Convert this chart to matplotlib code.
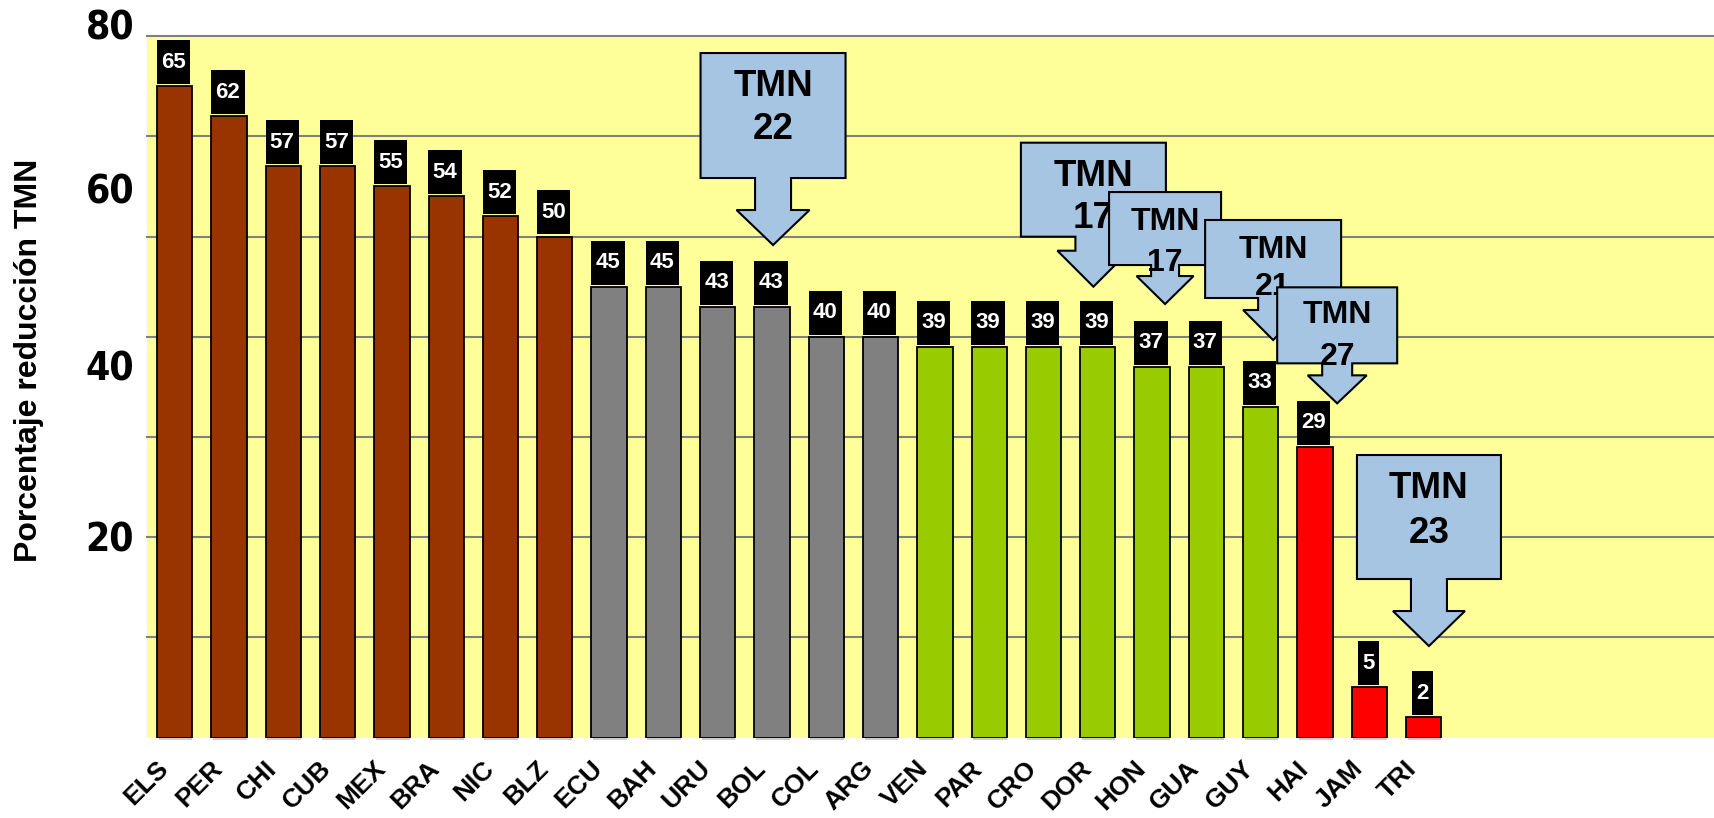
import matplotlib
matplotlib.use("Agg")
import matplotlib.pyplot as plt
from matplotlib import font_manager
from matplotlib.patches import Polygon, Rectangle
from matplotlib.transforms import IdentityTransform, blended_transform_factory

# ---- data -------------------------------------------------------------
categories = ["ELS", "PER", "CHI", "CUB", "MEX", "BRA", "NIC", "BLZ",
              "ECU", "BAH", "URU", "BOL", "COL", "ARG",
              "VEN", "PAR", "CRO", "DOR", "HON", "GUA", "GUY",
              "HAI", "JAM", "TRI"]
values = [65, 62, 57, 57, 55, 54, 52, 50,
          45, 45, 43, 43, 40, 40,
          39, 39, 39, 39, 37, 37, 33,
          29, 5, 2]
groups = ["high"] * 8 + ["mid"] * 6 + ["low"] * 7 + ["least"] * 3
group_colors = {"high": "#993300", "mid": "#808080",
                "low": "#99CC00", "least": "#FF0000"}

# y-axis labels as they are printed beside the plot area
ytick_texts = ["80", "60", "40", "20"]
ytick_at = [70.8, 54.4, 36.7, 19.7]

# TMN callouts: target bar, tip height, label
callout_bars = ["BOL", "DOR", "HON", "GUY", "HAI", "TRI"]
callout_tmn = ["22", "17", "17", "21", "27", "23"]
callout_tip_dx = [0.02, -0.08, 0.24, 0.23, 0.41, 0.10]
callout_tip_y = [49.15, 44.99, 43.26, 39.67, 33.35, 9.13]

# ---- style -------------------------------------------------------------
W, H, DPI = 1714, 818, 100
YELLOW = "#FFFF99"
BLUE = "#A6C5E3"
GRID = "#808080"
FONT = "Liberation Sans"

installed = {f.name for f in font_manager.fontManager.ttflist}
narrow_stretch = "normal"
if "Liberation Sans Narrow" in installed:
    NARROW, narrow_size = "Liberation Sans Narrow", 30.5
elif any(f.name == "DejaVu Sans" and "Condensed" in f.fname
         for f in font_manager.fontManager.ttflist):
    NARROW, narrow_size, narrow_stretch = "DejaVu Sans", 28, "condensed"
else:
    NARROW, narrow_size = FONT, 27

# callout geometry in pixels: box w/h, stem w/len, head w/h, font, line offsets
callout_geom = [
    (145, 125, 36, 32, 73, 35, 26.5, 33, 76),
    (145, 94, 36, 14, 72, 36, 26.5, 34, 76),
    (112, 73, 28, 11, 57, 28, 23, 30, 71),
    (136, 78, 30, 12, 60, 30, 23, 30, 67),
    (120, 76, 30, 12, 59, 28, 23, 28, 70),
    (144, 124, 36, 32, 72, 35, 26.5, 33, 78),
]

fig = plt.figure(figsize=(W / DPI, H / DPI), dpi=DPI)
left_px, top_px, bottom_px = 146.7, 36.1, 737.5
ax = fig.add_axes([left_px / W, 1 - bottom_px / H,
                   1 - left_px / W, (bottom_px - top_px) / H])
ax.set_xlim(-0.516, 28.35)
ax.set_ylim(0, 70)
ax.set_facecolor(YELLOW)
for s in ax.spines.values():
    s.set_visible(False)
ax.set_xticks([])
ax.set_yticks([])

# horizontal gridlines every 10 units
for gy in range(10, 71, 10):
    ax.axhline(gy, color=GRID, lw=1.5, zorder=1, clip_on=False)

x = list(range(len(categories)))
colors = [group_colors[g] for g in groups]
bar_w = 0.65
ax.bar(x, values, width=bar_w, color=colors, edgecolor="black",
       linewidth=1.3, zorder=2)

# light shadow line under each bar
for xi in x:
    ax.plot([xi - bar_w / 2 + 0.03, xi + bar_w / 2], [-0.18, -0.18],
            color="#C8C8C8", lw=1.3, clip_on=False, zorder=2,
            solid_capstyle="butt")

# value labels in black boxes
fig.canvas.draw()
renderer = fig.canvas.get_renderer()
px_per_x = ax.transData.transform((1, 0))[0] - ax.transData.transform((0, 0))[0]
for xi, v in zip(x, values):
    t = ax.text(xi - 0.02, v + 2.4, str(v), color="white", fontsize=16,
                fontweight="bold", family=FONT, ha="center", va="center",
                zorder=4)
    tw = t.get_window_extent(renderer).width
    bw = (tw + 8.5) / px_per_x
    ax.add_patch(Rectangle((xi - 0.02 - bw / 2, v + 0.2), bw, 4.4,
                           facecolor="black", edgecolor="none", zorder=3))

# category labels
for xi, c in zip(x, categories):
    ax.annotate(c, xy=(xi, 0), xytext=(-2, -19), textcoords="offset pixels",
                rotation=45, ha="right", va="top", fontsize=19,
                fontweight="bold", family=FONT, annotation_clip=False)

# printed y labels
ytrans = blended_transform_factory(fig.transFigure, ax.transData)
for txt, yv in zip(ytick_texts, ytick_at):
    ax.text(134 / W, yv, txt, transform=ytrans, ha="right", va="center",
            fontsize=narrow_size, fontweight="bold", family=NARROW,
            fontstretch=narrow_stretch, clip_on=False)

fig.text(29 / W, 1 - 360 / H, "Porcentaje reducción TMN", rotation=90,
         ha="center", va="center", fontsize=23, fontweight="bold",
         family=FONT)

# TMN block-arrow callouts
ident = IdentityTransform()
for k, (bar, tmn, dx, ty) in enumerate(zip(callout_bars, callout_tmn,
                                           callout_tip_dx, callout_tip_y)):
    bw, bh, sw, sl, hw, hh, fs, o1, o2 = callout_geom[k]
    px, py = ax.transData.transform((categories.index(bar) + dx, ty))
    head_top = py + hh
    box_bot = head_top + sl
    box_top = box_bot + bh
    verts = [(px - bw / 2, box_top), (px + bw / 2, box_top),
             (px + bw / 2, box_bot), (px + sw / 2, box_bot),
             (px + sw / 2, head_top), (px + hw / 2, head_top),
             (px, py), (px - hw / 2, head_top),
             (px - sw / 2, head_top), (px - sw / 2, box_bot),
             (px - bw / 2, box_bot)]
    z = 10 + 2 * k
    ax.add_patch(Polygon(verts, closed=True, transform=ident,
                         facecolor=BLUE, edgecolor="black", lw=1.5,
                         joinstyle="miter", zorder=z))
    for line, off in (("TMN", o1), (tmn, o2)):
        ax.text(px, box_top - off, line, transform=ident, ha="center",
                va="center", fontsize=fs, fontweight="bold", family=FONT,
                zorder=z + 1)

fig.savefig("out.png", dpi=DPI, facecolor="white")
